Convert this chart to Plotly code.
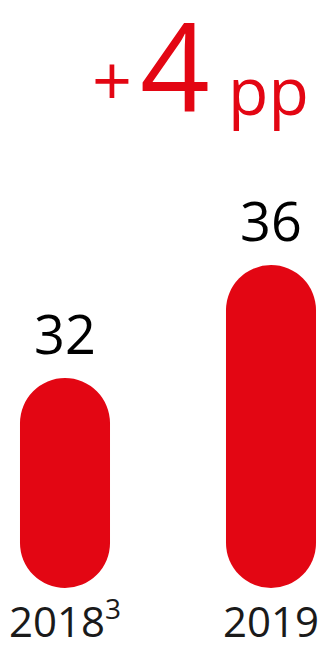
import plotly.graph_objects as go

categories = ["2018", "2019"]
tick_labels = ["2018<sup><span style='font-size:28px'>3</span></sup>", "2019"]
values = [32, 36]
change_label = "4"
axis_floor = 24.57

RED = "#E30613"
x = [0, 1]

fig = go.Figure()
fig.add_trace(go.Bar(
    x=x, y=[v - axis_floor for v in values], base=[axis_floor] * len(values),
    marker=dict(color=RED, cornerradius="50%", line=dict(width=0)),
    width=0.437, hoverinfo="skip"))

for xi, v in zip(x, values):
    fig.add_annotation(x=xi, y=v, text=str(v), showarrow=False,
                       yanchor="bottom", yshift=6,
                       font=dict(family="Open Sans", size=54, color="#000000"))

fig.add_annotation(xref="paper", yref="paper", x=112/326, y=1 - 113/588,
                   text="+", showarrow=False, xanchor="center", yanchor="bottom",
                   font=dict(family="Open Sans", size=70, color=RED), yshift=-16)
fig.add_annotation(xref="paper", yref="paper", x=175/326, y=1 - 113/588,
                   text=change_label, showarrow=False, xanchor="center", yanchor="bottom",
                   font=dict(family="Open Sans", size=122, color=RED), yshift=-36)
fig.add_annotation(xref="paper", yref="paper", x=268/326, y=1 - 113/588,
                   text="pp", showarrow=False, xanchor="center", yanchor="bottom",
                   font=dict(family="Open Sans", size=66, color=RED), yshift=-23)

fig.update_layout(
    width=326, height=653,
    margin=dict(l=0, r=0, t=0, b=65),
    paper_bgcolor="white", plot_bgcolor="white",
    showlegend=False,
    xaxis=dict(range=[-65/206, 1 + 55/206], tickvals=x, ticktext=tick_labels,
               showgrid=False, zeroline=False, showline=False, ticks="",
               ticklabelstandoff=6,
               tickfont=dict(family="Open Sans", size=42, color="#1a1a1a"),
               fixedrange=True),
    yaxis=dict(range=[axis_floor, axis_floor + 588/28.25], visible=False,
               fixedrange=True),
)
fig.write_html("out.html")
